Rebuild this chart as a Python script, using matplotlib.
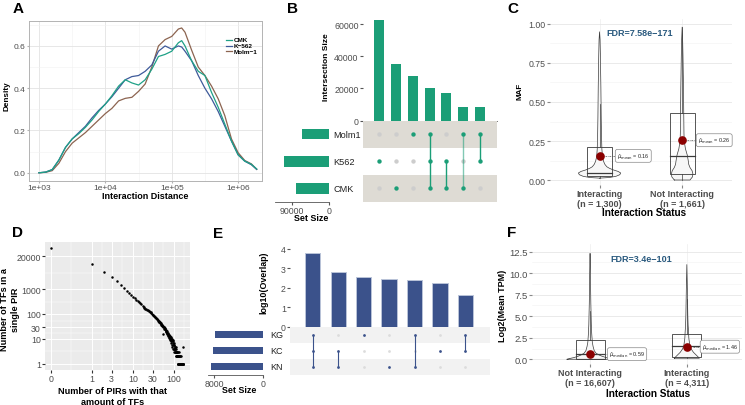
import numpy as np
import matplotlib
matplotlib.use("Agg")
import matplotlib.pyplot as plt
from matplotlib.lines import Line2D
from matplotlib.patches import Rectangle
from matplotlib.ticker import FixedLocator, NullFormatter

plt.rcParams['font.family'] = ['Liberation Sans', 'DejaVu Sans']
plt.rcParams['mathtext.fontset'] = 'dejavusans'

# ===================== DATA =====================
# Panel A: density of interaction distance
a_log10_distance = [3.0, 3.1, 3.2, 3.3, 3.4, 3.5, 3.6, 3.7, 3.8, 3.9, 4.0, 4.1, 4.2, 4.3, 4.4,
                    4.5, 4.6, 4.7, 4.8, 4.9, 5.0, 5.1, 5.15, 5.2, 5.3, 5.4, 5.5, 5.6, 5.7, 5.8,
                    5.9, 6.0, 6.1, 6.2, 6.28]
a_density_cmk = [0.0, 0.003, 0.015, 0.06, 0.12, 0.16, 0.185, 0.215, 0.25, 0.29, 0.325, 0.365,
                 0.41, 0.44, 0.425, 0.415, 0.44, 0.49, 0.55, 0.56, 0.575, 0.615, 0.625, 0.6,
                 0.53, 0.48, 0.46, 0.38, 0.31, 0.23, 0.15, 0.085, 0.055, 0.04, 0.018]
a_density_k562 = [0.0, 0.003, 0.015, 0.06, 0.12, 0.16, 0.19, 0.22, 0.26, 0.295, 0.325, 0.36,
                  0.40, 0.44, 0.455, 0.46, 0.48, 0.51, 0.575, 0.60, 0.585, 0.60, 0.595, 0.575,
                  0.53, 0.46, 0.40, 0.35, 0.29, 0.22, 0.15, 0.085, 0.055, 0.038, 0.016]
a_density_molm1 = [0.0, 0.002, 0.01, 0.045, 0.10, 0.14, 0.165, 0.19, 0.22, 0.25, 0.28, 0.305,
                   0.34, 0.352, 0.357, 0.385, 0.42, 0.50, 0.60, 0.63, 0.645, 0.68, 0.685, 0.665,
                   0.58, 0.50, 0.46, 0.41, 0.35, 0.27, 0.16, 0.095, 0.058, 0.042, 0.016]
a_series_names = ['CMK', 'K\u2212562', 'Molm\u22121']
a_xtick_values = [1e3, 1e4, 1e5, 1e6]
a_xtick_labels = ['1e+03', '1e+04', '1e+05', '1e+06']
a_ytick_values = [0.0, 0.2, 0.4, 0.6]

# Panel B: UpSet of interactions
b_sets = ['Molm1', 'K562', 'CMK']
b_set_sizes = [65000, 108000, 80500]
b_intersections = [62700, 35100, 27800, 19900, 16800, 8700, 8600]
b_members = [['K562'], ['CMK'], ['Molm1'], ['Molm1', 'K562', 'CMK'],
             ['K562', 'CMK'], ['Molm1', 'CMK'], ['Molm1', 'K562']]
b_yticks = [0, 20000, 40000, 60000]
b_set_ticks = [90000, 0]

# Panel C: MAF by interaction status
c_groups = ['Interacting\n(n = 1,300)', 'Not Interacting\n(n = 1,661)']
c_q1 = [0.028, 0.038]
c_median = [0.045, 0.156]
c_q3 = [0.213, 0.43]
c_whisk_lo = [0.012, 0.0]
c_whisk_hi = [0.49, 0.98]
c_mean = [0.155, 0.255]
c_mean_labels = ['0.16', '0.26']
c_fdr = 'FDR=7.58e\u2212171'
c_violin_y_int = [0.012, 0.016, 0.024, 0.034, 0.045, 0.055, 0.065, 0.075, 0.085, 0.1, 0.12,
                  0.15, 0.2, 0.3, 0.4, 0.5, 0.6, 0.7, 0.8, 0.9, 0.95]
c_violin_w_int = [0.0, 0.12, 0.2, 0.245, 0.256, 0.225, 0.165, 0.12, 0.088, 0.065, 0.048,
                  0.035, 0.028, 0.023, 0.02, 0.018, 0.016, 0.013, 0.01, 0.006, 0.0]
c_violin_y_not = [0.0, 0.02, 0.04, 0.06, 0.08, 0.1, 0.13, 0.16, 0.2, 0.25, 0.3, 0.4, 0.5,
                  0.6, 0.7, 0.8, 0.9, 0.98]
c_violin_w_not = [0.095, 0.125, 0.13, 0.12, 0.095, 0.08, 0.072, 0.062, 0.04, 0.025, 0.022,
                  0.02, 0.018, 0.016, 0.013, 0.01, 0.006, 0.0]
c_yticks = [0.0, 0.25, 0.5, 0.75, 1.0]
c_ytick_labels = ['0.00', '0.25', '0.50', '0.75', '1.00']

# Panel D: TFs per PIR
d_num_pirs = list(range(0, 167))
d_num_tfs = ([42000, 10000, 4800, 2900, 2000, 1400, 1050, 850, 690, 580, 490, 430, 380, 335,
              300, 268, 240, 215, 195, 178]
             + [165, 160, 148, 142, 130, 127, 118, 115, 106, 102, 94, 93, 84, 83, 76, 76, 70,
                68, 62, 61, 57]
             + [54, 53, 49, 49, 44, 46, 40, 42, 38, 38, 34, 36, 31, 33, 16, 30, 26, 29, 24, 27]
             + [24, 21, 23, 19, 21, 17, 20, 16, 18, 15, 17, 13, 16, 12, 15, 11, 14, 10, 13, 12,
                9, 12, 8, 11, 10, 7, 10, 6, 9, 8, 5, 9, 4, 8, 6, 7, 4, 6, 3, 7]
             + [6, 4, 5, 3, 5, 4, 3, 4, 2, 3, 5, 3, 2, 4, 3, 2, 3, 2, 2, 3]
             + [2, 1, 3, 2, 1, 2, 1, 1, 2, 1, 1, 3, 1, 2, 1, 1, 1, 2, 1, 1, 1, 1, 2, 1, 1, 1,
                1, 1, 1, 2, 1, 1, 1, 1, 1, 1, 1, 1, 1, 1, 1, 1, 1, 1, 1]
             + [5])
d_xticks = [0, 1, 3, 10, 30, 100]
d_yticks = [1, 10, 30, 100, 1000, 20000]

# Panel E: UpSet of overlaps
e_sets = ['KG', 'KC', 'KN']
e_set_sizes = [7830, 8100, 8490]
e_log10_overlap = [3.79, 2.83, 2.55, 2.43, 2.38, 2.22, 1.62]
e_members = [['KG', 'KC', 'KN'], ['KC', 'KN'], ['KG'], ['KN'], ['KG', 'KN'], ['KC'], ['KG', 'KC']]
e_yticks = [0, 1, 2, 3, 4]
e_set_ticks = [8000, 0]

# Panel F: expression by interaction status
f_groups = ['Not Interacting\n(n = 16,607)', 'Interacting\n(n = 4,311)']
f_q1 = [0.03, 0.23]
f_median = [0.6, 1.5]
f_q3 = [2.28, 2.94]
f_whisk_lo = [0.0, 0.12]
f_whisk_hi = [5.65, 7.0]
f_center = [0.59, 1.46]
f_center_labels = ['0.59', '1.46']
f_fdr = 'FDR=3.4e\u2212101'
f_violin_y_not = [0.0, 0.1, 0.2, 0.35, 0.5, 0.7, 1.0, 1.5, 2.0, 3.0, 4.0, 5.0, 6.5, 8.0, 10.0,
                  11.5, 12.3]
f_violin_w_not = [0.238, 0.207, 0.165, 0.124, 0.093, 0.062, 0.043, 0.031, 0.023, 0.017, 0.013,
                  0.011, 0.008, 0.006, 0.004, 0.002, 0.0]
f_violin_y_int = [0.12, 0.3, 0.5, 0.8, 1.2, 1.6, 2.4, 3.1, 4.0, 5.1, 7.0, 9.0, 11.0]
f_violin_w_int = [0.129, 0.114, 0.096, 0.069, 0.044, 0.031, 0.021, 0.018, 0.013, 0.010,
                  0.007, 0.004, 0.0]
f_yticks = [0.0, 2.5, 5.0, 7.5, 10.0, 12.5]
f_ytick_labels = ['0.0', '2.5', '5.0', '7.5', '10.0', '12.5']

# ===================== STYLE / LAYOUT =====================
W, H = 745.0, 406.0
fig = plt.figure(figsize=(W / 100, H / 100), dpi=100)

TICKC = '#4D4D4D'
C_CMK, C_K562, C_MOLM = '#1FA187', '#3E5A9A', '#8C6450'
GREEN = '#1B9E77'
NAVY = '#3B528B'
FDRC = '#2A5A7F'
RED = '#8B0000'


def add_ax(x0, y0, x1, y1):
    return fig.add_axes([x0 / W, 1 - y1 / H, (x1 - x0) / W, (y1 - y0) / H])


def ftext(x, y, s, **kw):
    return fig.text(x / W, 1 - y / H, s, **kw)


def letter(x, y, s):
    ftext(x, y, s, fontsize=11, fontweight='bold', va='baseline', ha='left')


# ---------------- Panel A ----------------
axA = add_ax(29, 22, 262, 182)
xs = 10 ** np.array(a_log10_distance)
for vals, col, name in [(a_density_molm1, C_MOLM, a_series_names[2]),
                        (a_density_k562, C_K562, a_series_names[1]),
                        (a_density_cmk, C_CMK, a_series_names[0])]:
    axA.plot(xs, vals, color=col, lw=0.9, solid_joinstyle='round')
axA.set_xscale('log')
axA.set_xlim(10 ** 2.85, 10 ** 6.36)
axA.set_ylim(-0.039, 0.718)
axA.xaxis.set_major_locator(FixedLocator(a_xtick_values))
axA.set_xticklabels(a_xtick_labels)
axA.xaxis.set_minor_locator(FixedLocator([10 ** 3.5, 10 ** 4.5, 10 ** 5.5]))
axA.xaxis.set_minor_formatter(NullFormatter())
axA.set_yticks(a_ytick_values)
axA.set_yticklabels(['0.0', '0.2', '0.4', '0.6'])
axA.yaxis.set_minor_locator(FixedLocator([0.1, 0.3, 0.5, 0.7]))
axA.grid(which='major', color='#E3E3E3', lw=0.6)
axA.grid(which='minor', color='#F1F1F1', lw=0.4)
axA.set_axisbelow(True)
for sp in axA.spines.values():
    sp.set_color('#B3B3B3')
    sp.set_linewidth(0.7)
axA.tick_params(which='major', length=1.5, color='#B3B3B3', labelcolor=TICKC, labelsize=6.0, pad=0.8)
axA.tick_params(which='minor', length=0)
ftext(145, 196.5, 'Interaction Distance', fontsize=6.5, fontweight='bold', ha='center', va='center')
ftext(7, 96, 'Density', fontsize=5.9, fontweight='bold', ha='center', va='center', rotation=90)
for i, (name, col) in enumerate(zip(a_series_names, [C_CMK, C_K562, C_MOLM])):
    yy = 41 + i * 5.6
    fig.add_artist(Line2D([226 / W, 231.5 / W], [1 - yy / H, 1 - yy / H], color=col, lw=0.9))
    ftext(234, yy, name, fontsize=4.6, fontweight='bold', va='center', ha='left')
letter(13, 13, 'A')


# ---------------- UpSet helper ----------------
def draw_upset(sets, set_sizes, inter, members, color, bar_rect, mat_rect, set_rect,
               bar_ylim, bar_yticks, bar_yticklabels, mat_xlim, set_xlim, set_ticks,
               band_sets, band_color, inactive_color, dot_s, lw, bar_width, set_bar_h,
               fs_tick, fs_set, label_x, line_alpha, bar_edge=None, baseline=False):
    n = len(sets)
    cols = np.arange(len(inter))
    rowy = {s: n - 1 - i for i, s in enumerate(sets)}
    # intersection bars
    axb = add_ax(*bar_rect)
    axb.bar(cols, inter, width=bar_width, color=color,
            edgecolor=bar_edge if bar_edge else color, linewidth=0.7 if bar_edge else 0)
    axb.set_xlim(*mat_xlim)
    axb.set_ylim(*bar_ylim)
    axb.set_yticks(bar_yticks)
    axb.set_yticklabels(bar_yticklabels)
    axb.set_xticks([])
    for k in ['top', 'right', 'left']:
        axb.spines[k].set_visible(False)
    if baseline:
        axb.spines['bottom'].set_color('#555555')
        axb.spines['bottom'].set_linewidth(0.6)
    else:
        axb.spines['bottom'].set_visible(False)
    axb.tick_params(axis='y', length=2, color='#555555', labelcolor=TICKC, labelsize=fs_tick, pad=1)
    axb.patch.set_alpha(0)
    # matrix
    axm = add_ax(*mat_rect)
    axm.set_xlim(*mat_xlim)
    axm.set_ylim(-0.5, n - 0.5)
    for s in band_sets:
        axm.axhspan(rowy[s] - 0.5, rowy[s] + 0.5, color=band_color, lw=0, zorder=0)
    for j, mem in enumerate(members):
        for s in sets:
            if s not in mem:
                axm.scatter([j], [rowy[s]], s=dot_s, color=inactive_color, lw=0, zorder=2)
        ys_act = [rowy[s] for s in mem]
        if len(ys_act) > 1:
            axm.plot([j, j], [min(ys_act), max(ys_act)], color=color, lw=lw,
                     alpha=line_alpha[j], zorder=3, solid_capstyle='butt')
        axm.scatter([j] * len(ys_act), ys_act, s=dot_s, color=color, lw=0, zorder=4)
    axm.axis('off')
    # set sizes
    axs = add_ax(*set_rect)
    axs.barh([rowy[s] for s in sets], set_sizes, height=set_bar_h, color=color, lw=0)
    axs.set_xlim(*set_xlim)
    axs.set_ylim(-0.5, n - 0.5)
    axs.set_yticks([])
    axs.set_xticks(set_ticks)
    axs.set_xticklabels([str(t) for t in set_ticks])
    for k in ['top', 'right', 'left']:
        axs.spines[k].set_visible(False)
    axs.spines['bottom'].set_color('#555555')
    axs.spines['bottom'].set_linewidth(0.6)
    axs.tick_params(axis='x', length=2, color='#555555', labelcolor=TICKC, labelsize=fs_tick, pad=1)
    axs.patch.set_alpha(0)
    # set labels
    x0, y0, x1, y1 = mat_rect
    rh = (y1 - y0) / n
    for i, s in enumerate(sets):
        ftext(label_x, y0 + (i + 0.5) * rh, s, fontsize=fs_set, va='center', ha='left', color='#222222')


# ---------------- Panel B ----------------
draw_upset(b_sets, b_set_sizes, b_intersections, b_members, GREEN,
           bar_rect=(362.7, 16, 496.7, 121.5), mat_rect=(362.7, 121.5, 496.7, 202.7),
           set_rect=(275, 121.5, 329.3, 202.7),
           bar_ylim=(0, 65600), bar_yticks=b_yticks, bar_yticklabels=[str(v) for v in b_yticks],
           mat_xlim=(-1.0, 7.0), set_xlim=(130000, 0), set_ticks=b_set_ticks,
           band_sets=['Molm1', 'CMK'], band_color='#DEDBD4', inactive_color='#CDCDCD',
           dot_s=10, lw=1.0, bar_width=0.6, set_bar_h=0.4, fs_tick=6.3, fs_set=6.6,
           label_x=333.3, line_alpha=[1, 1, 1, 1, 1, 0.55, 1], baseline=True)
ftext(326.5, 67.5, 'Intersection Size', fontsize=6.0, fontweight='bold', rotation=90,
      ha='center', va='center')
ftext(310.7, 219, 'Set Size', fontsize=6.4, fontweight='bold', ha='center', va='center')
letter(287, 13, 'B')

# ---------------- Panel E ----------------
draw_upset(e_sets, e_set_sizes, e_log10_overlap, e_members, NAVY,
           bar_rect=(290, 246.1, 490, 327.5), mat_rect=(290, 327.5, 490, 375.5),
           set_rect=(208, 327.5, 262.7, 375.5),
           bar_ylim=(0, 4.2), bar_yticks=e_yticks, bar_yticklabels=[str(v) for v in e_yticks],
           mat_xlim=(-0.9, 6.97), set_xlim=(8990, 0), set_ticks=e_set_ticks,
           band_sets=['KG', 'KN'], band_color='#F2F2F2', inactive_color='#DCDCDC',
           dot_s=4, lw=0.8, bar_width=0.6, set_bar_h=0.42, fs_tick=6.3, fs_set=6.5,
           label_x=270, line_alpha=[1] * 7, bar_edge='#B9C3D8', baseline=False)
ftext(264, 283, 'log10(Overlap)', fontsize=6.4, fontweight='bold', rotation=90,
      ha='center', va='center')
ftext(239, 391, 'Set Size', fontsize=6.4, fontweight='bold', ha='center', va='center')
letter(213, 238, 'E')


# ---------------- Violin/box helper ----------------
def violin(ax, pos, ys, ws):
    ys = np.array(ys, dtype=float)
    ws = np.array(ws, dtype=float)
    ax.fill_betweenx(ys, pos - ws, pos + ws, facecolor='#F7F7F7', edgecolor='none', zorder=2)
    xx = np.concatenate([pos - ws, (pos + ws)[::-1], [pos - ws[0]]])
    yy = np.concatenate([ys, ys[::-1], [ys[0]]])
    ax.plot(xx, yy, color='#3A3A3A', lw=0.5, zorder=3)


def boxplot(ax, pos, q1, med, q3, lo, hi, half=0.15):
    ax.plot([pos, pos], [q3, hi], color='#3A3A3A', lw=0.5, zorder=3)
    ax.plot([pos, pos], [lo, q1], color='#3A3A3A', lw=0.5, zorder=3)
    ax.add_patch(Rectangle((pos - half, q1), 2 * half, q3 - q1, fill=False,
                           edgecolor='#3A3A3A', lw=0.6, zorder=4))
    ax.plot([pos - half, pos + half], [med, med], color='#3A3A3A', lw=0.9, zorder=4)


def center_label(ax, pos, yv, xlab, text):
    ax.plot([pos + 0.06, xlab], [yv, yv], color='#555555', lw=0.5,
            ls=(0, (2.5, 1.2, 0.8, 1.2)), zorder=5)
    ax.plot([pos], [yv], 'o', color=RED, ms=5.2, mec=RED, zorder=6)
    ax.text(xlab, yv, text, fontsize=3.9, ha='left', va='center', zorder=7, color='#222222',
            bbox=dict(boxstyle='round,pad=0.3,rounding_size=0.4', fc='white', ec='#888888', lw=0.5))


def style_stat_ax(ax, yticks, ylabels, minor, xlabels, fs_y, fs_x):
    ax.set_yticks(yticks)
    ax.set_yticklabels(ylabels)
    ax.yaxis.set_minor_locator(FixedLocator(minor))
    ax.set_xticks([1, 2])
    ax.set_xticklabels(xlabels, fontweight='bold', linespacing=1.05)
    ax.grid(axis='y', which='major', color='#E6E6E6', lw=0.6)
    ax.grid(axis='y', which='minor', color='#F2F2F2', lw=0.4)
    ax.grid(axis='x', which='major', color='#EDEDED', lw=0.5)
    ax.set_axisbelow(True)
    for sp in ax.spines.values():
        sp.set_visible(False)
    ax.tick_params(axis='y', which='major', length=2, color='#888888', labelcolor=TICKC,
                   labelsize=fs_y, pad=1)
    ax.tick_params(axis='x', which='major', length=2, color='#888888', labelcolor=TICKC,
                   labelsize=fs_x, pad=1)
    ax.tick_params(which='minor', length=0)


# ---------------- Panel C ----------------
axC = add_ax(550, 20, 731.7, 186)
axC.set_xlim(0.4, 2.6)
axC.set_ylim(-0.032, 1.032)
violin(axC, 1, c_violin_y_int, c_violin_w_int)
violin(axC, 2, c_violin_y_not, c_violin_w_not)
for i in range(2):
    boxplot(axC, i + 1, c_q1[i], c_median[i], c_q3[i], c_whisk_lo[i], c_whisk_hi[i])
center_label(axC, 1, c_mean[0], 1.21, r'$\hat{\mu}_{\mathrm{mean}}$ = ' + c_mean_labels[0])
center_label(axC, 2, c_mean[1], 2.19, r'$\hat{\mu}_{\mathrm{mean}}$ = ' + c_mean_labels[1])
style_stat_ax(axC, c_yticks, c_ytick_labels, [0.125, 0.375, 0.625, 0.875], c_groups, 6.3, 6.5)
ftext(640, 33, c_fdr, fontsize=6.5, fontweight='bold', color=FDRC, ha='center', va='center')
ftext(644, 213, 'Interaction Status', fontsize=7.2, fontweight='bold', ha='center', va='center')
ftext(520, 91, 'MAF', fontsize=5.8, fontweight='bold', rotation=90, ha='center', va='center')
letter(507, 13, 'C')

# ---------------- Panel F ----------------
axF = add_ax(532, 245, 742, 365)
axF.set_xlim(0.4, 2.57)
axF.set_ylim(-0.55, 13.39)
violin(axF, 1, f_violin_y_not, f_violin_w_not)
violin(axF, 2, f_violin_y_int, f_violin_w_int)
for i in range(2):
    boxplot(axF, i + 1, f_q1[i], f_median[i], f_q3[i], f_whisk_lo[i], f_whisk_hi[i])
center_label(axF, 1, f_center[0], 1.196, r'$\hat{\mu}_{\mathrm{median}}$ = ' + f_center_labels[0])
center_label(axF, 2, f_center[1], 2.155, r'$\hat{\mu}_{\mathrm{median}}$ = ' + f_center_labels[1])
style_stat_ax(axF, f_yticks, f_ytick_labels, [1.25, 3.75, 6.25, 8.75, 11.25], f_groups, 6.8, 6.5)
ftext(641.7, 259, f_fdr, fontsize=6.5, fontweight='bold', color=FDRC, ha='center', va='center')
ftext(648, 394, 'Interaction Status', fontsize=7.2, fontweight='bold', ha='center', va='center')
ftext(503, 306, 'Log2(Mean TPM)', fontsize=6.5, fontweight='bold', rotation=90,
      ha='center', va='center')
letter(507, 237, 'F')

# ---------------- Panel D ----------------
axD = add_ax(45, 243, 190, 371)
axD.set_facecolor('#EBEBEB')
axD.scatter(d_num_pirs, d_num_tfs, s=3.2, color='black', lw=0, zorder=3)
axD.set_xscale('symlog', linthresh=1, linscale=0.9)
axD.set_yscale('log')
axD.set_xlim(-0.145, 244)
axD.set_ylim(0.575, 75900)
axD.xaxis.set_major_locator(FixedLocator(d_xticks))
axD.set_xticklabels([str(v) for v in d_xticks])
axD.xaxis.set_minor_locator(FixedLocator([0.5, 1.732, 5.477, 17.32, 54.77, 173.2]))
axD.xaxis.set_minor_formatter(NullFormatter())
axD.yaxis.set_major_locator(FixedLocator(d_yticks))
axD.set_yticklabels([str(v) for v in d_yticks])
axD.yaxis.set_minor_locator(FixedLocator([3.162, 17.32, 54.77, 316.2, 4472]))
axD.yaxis.set_minor_formatter(NullFormatter())
axD.grid(which='major', color='white', lw=0.7)
axD.grid(which='minor', color='white', lw=0.35)
axD.set_axisbelow(True)
for sp in axD.spines.values():
    sp.set_visible(False)
axD.tick_params(which='major', length=2, color='#333333', labelcolor=TICKC, labelsize=6.3, pad=1)
axD.tick_params(which='minor', length=0)
ftext(113, 397, 'Number of PIRs with that\namount of TFs', fontsize=6.6, fontweight='bold',
      ha='center', va='center', linespacing=1.15)
ftext(10, 310, 'Number of TFs in a\nsingle PIR', fontsize=6.6, fontweight='bold',
      ha='center', va='center', rotation=90, linespacing=1.15)
letter(12, 237, 'D')

fig.savefig('out.png', dpi=100)
